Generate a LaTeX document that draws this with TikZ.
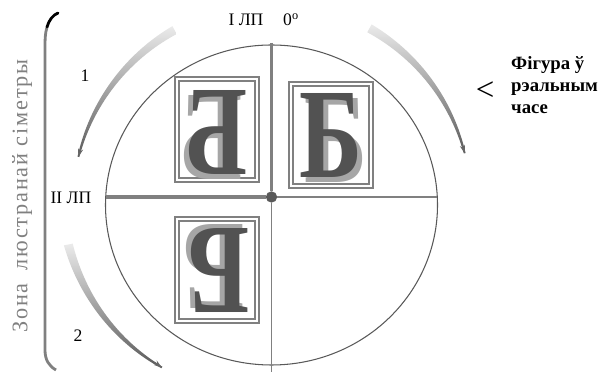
\documentclass[tikz,border=0pt]{standalone}
\usepackage{fontspec}
\setmainfont{Liberation Serif}
\newfontfamily\spacedserif[LetterSpace=8]{Liberation Serif}
\usetikzlibrary{arrows.meta}

% one letter with its lighter extrusion, sized like the reference
\newcommand{\bglyph}{\resizebox{18.9mm}{25.2mm}{\bfseries
  \rlap{\smash{\kern0.05em\raisebox{-0.035em}{\color{black!35}Б}}}Б}}

% tapered, shaded arc around the dial: start angle, end angle, start r, end r
\newcommand{\taperarc}[4]{%
  \shade[arrowbody] plot[domain=#1:#2, samples=40]
      (\x:{#3+(#4-#3)*(\x-#1)/(#2-#1)+3.6*(#2-\x)/(#2-#1)+0.9})
    -- plot[domain=#2:#1, samples=40]
      (\x:{#3+(#4-#3)*(\x-#1)/(#2-#1)-3.6*(#2-\x)/(#2-#1)-0.9}) -- cycle;
  \draw[arrowtip] ({#2-0.06*(#2-#1)}:{#4}) -- (#2:#4);
}

\tikzset{
  axisthick/.style={draw=black!50, line width=3.4pt},
  axisthin/.style={draw=black!50, line width=1.1pt},
  framebox/.style={draw=black!50, line width=1pt},
  bface/.style={inner sep=0pt, text=black!68},
  arrowbody/.style={top color=black!8, bottom color=black!65, draw=none},
  arrowtip/.style={black!60, line width=0.9pt, -{Stealth[length=7pt,width=4.5pt]}},
  dial/.style={inner sep=0pt, font=\fontsize{15}{18}\selectfont},
  zonetext/.style={inner sep=0pt, text=black!50, font=\spacedserif\fontsize{19}{22}\selectfont},
  realtext/.style={inner sep=0pt, align=left, font=\bfseries\fontsize{16}{19}\selectfont},
}

\begin{document}
\begin{tikzpicture}[x=0.3mm, y=0.3mm]
\useasboundingbox (0,0) rectangle (601,372);
% dial
\draw[black!65, line width=0.9pt] (271.5,167) ellipse [x radius=166, y radius=160];
\coordinate (top) at (271.5,329);
\coordinate (bottom) at (271.5,0);
\coordinate (left) at (105.7,175);
\coordinate (right) at (437,175);
\node[circle, fill=black!65, inner sep=0pt, minimum size=3.4mm] (centre) at (271.5,175) {};
\draw[axisthick] (top) -- (centre);
\draw[axisthick] (left) -- (centre);
\draw[axisthin] (centre) -- (bottom);
\draw[axisthin] (centre) -- (right);
% frames round the letters
\draw[framebox] (175,295) rectangle (259,190);
\draw[framebox] (179,291) rectangle (255,194);
\draw[framebox] (289,290) rectangle (373,184);
\draw[framebox] (293,286) rectangle (369,188);
\draw[framebox] (175,155) rectangle (259,49);
\draw[framebox] (179,151) rectangle (255,53);
% letters
\node[bface] (real) at (331,236) {\bglyph};
\node[bface, xscale=-1] (mirror) at (216,239) {\bglyph};
\node[bface, rotate=180] (mirrordown) at (218,101) {\bglyph};
% labels
\node[dial] (lp1) at (246,352) {I ЛП};
\node[dial] (deg) at (291,352) {0\textsuperscript{o}};
\node[dial] (lp2) at (71,174) {II ЛП};
\node[dial] (one) at (85,296) {1};
\node[dial] (two) at (78,36) {2};
\node[zonetext, rotate=90] (zone) at (22,176) {Зона\hspace{5pt} люстранай сіметры};
\node[inner sep=0pt, font=\fontsize{28}{28}\selectfont] (less) at (485,281) {<};
\node[realtext, anchor=north west] (figure) at (511,316) {Фігура ў\\рэальным\\часе};
% mirror zone bracket
\draw[black!50, line width=2.4pt] (47,345) .. controls (45,338) and (45,332) .. (45,325)
  -- (45,22) .. controls (45,12) and (49,6) .. (56,2);
\draw[black, line width=2.4pt, line cap=round] (47,345) .. controls (49,352) and (53,357) .. (58,359);
% rotation arrows
\begin{scope}[shift={(271.5,167)}]
\taperarc{119}{166}{200}{199}
\taperarc{191}{236}{207}{196}
\taperarc{61}{15}{202}{200}
\end{scope}
\end{tikzpicture}
\end{document}
